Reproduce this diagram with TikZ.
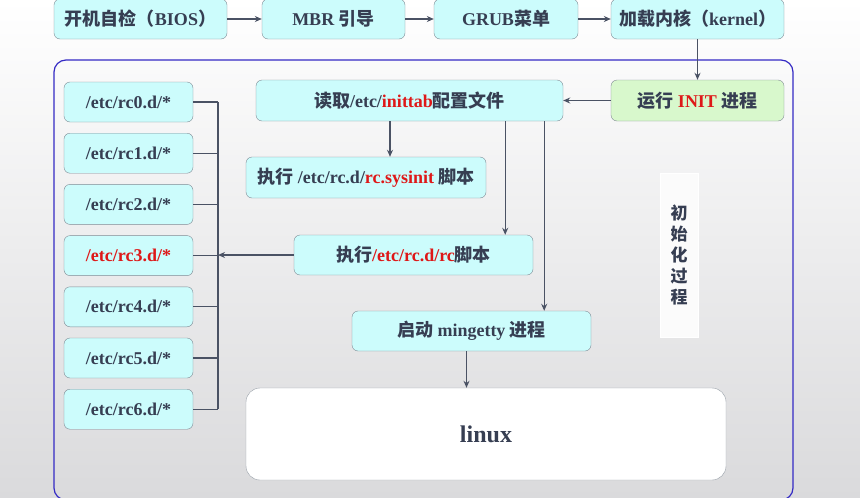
\documentclass[tikz,border=0pt]{standalone}
\usepackage{fontspec}
\setmainfont{Liberation Serif}
\newfontfamily\zh{Noto Sans CJK SC}
\usetikzlibrary{arrows.meta,calc}
\definecolor{ink}{RGB}{54,62,82}
\definecolor{hot}{RGB}{222,24,24}
\definecolor{cyanbox}{RGB}{204,252,252}
\definecolor{greenbox}{RGB}{216,248,204}
\definecolor{edge}{RGB}{128,138,148}
\definecolor{wire}{RGB}{74,82,100}
\definecolor{frameblue}{RGB}{52,42,196}
\tikzset{
  stage/.style={draw=edge, fill=cyanbox, rounded corners=6pt, inner sep=0pt, minimum height=40pt,
    text=ink, font=\fontsize{18}{21}\selectfont\bfseries},
  flow/.style={draw=wire, line width=1.2pt, -{Stealth[length=7pt,width=6pt]}},
  tie/.style={draw=wire, line width=1.2pt}
}
\newcommand{\hl}[1]{\textcolor{hot}{#1}}
\begin{document}
\begin{tikzpicture}[x=1pt,y=-1pt]
    \shade[top color=white, bottom color={rgb,255:red,218;green,218;blue,220}] (0pt,0pt) rectangle (860pt,-498pt);
    \useasboundingbox (0,0) rectangle (860,498);
    \draw[frameblue, line width=1.2pt, rounded corners=12pt] (54,60) rectangle (793,500);

    \node[stage, minimum width=173pt] (bios) at (140.5,19) {{\zh 开机自检（}BIOS{\zh ）}};
    \node[stage, minimum width=143pt] (mbr) at (333.5,19) {MBR {\zh 引导}};
    \node[stage, minimum width=144pt] (grub) at (506,19) {GRUB{\zh 菜单}};
    \node[stage, minimum width=173pt] (kern) at (697.5,19) {{\zh 加载内核（}kernel{\zh ）}};
    \node[stage, fill=greenbox, minimum width=173pt, minimum height=41pt] (init) at (697.5,100.5) {{\zh 运行} \hl{INIT} {\zh 进程}};
    \node[stage, minimum width=307pt, minimum height=41pt] (read) at (409.5,100.5) {{\zh 读取}/etc/\hl{inittab}{\zh 配置文件}};
    \node[stage, minimum width=240pt, minimum height=41pt] (sys) at (366,177.5) {{\zh 执行} /etc/rc.d/\hl{rc.sysinit} {\zh 脚本}};
    \node[stage, minimum width=239pt] (rcs) at (413.5,255) {{\zh 执行}\hl{/etc/rc.d/rc}{\zh 脚本}};
    \node[stage, minimum width=239pt] (ming) at (471.5,331) {{\zh 启动} mingetty {\zh 进程}};
    \node[stage, fill=white, draw=edge!80, rounded corners=14pt, minimum width=480pt, minimum height=92pt,
      font=\fontsize{24}{28}\selectfont\bfseries] (linux) at (486,434) {linux};
    \node[draw=white, fill=white!97!gray, inner sep=0pt, minimum width=38pt, minimum height=164pt, text=ink,
      align=center, font=\zh\fontsize{17}{21}\selectfont\bfseries] (phase) at (679,255) {初\\始\\化\\过\\程};

    \foreach \i/\c in {0/ink,1/ink,2/ink,3/hot,4/ink,5/ink,6/ink}
        \node[stage, minimum width=129pt, text=\c] (rc\i) at (128.5,{102+51.2*\i}) {/etc/rc\i.d/*};

    \coordinate (bus) at (218,0);
    \foreach \i in {0,...,6}
        \draw[tie] (rc\i.east) -- (rc\i.east -| bus);
    \draw[tie] (rc0.east -| bus) -- (rc6.east -| bus);

    \draw[flow] (bios) -- (mbr);
    \draw[flow] (mbr) -- (grub);
    \draw[flow] (grub) -- (kern);
    \draw[flow] (kern) -- (init);
    \draw[flow] (init) -- (read);
    \coordinate (drop1) at ([xshift=24pt]sys.north);
    \draw[flow] (read.south -| drop1) -- (drop1);
    \coordinate (drop2) at ([xshift=-28pt]rcs.north east);
    \draw[flow] (read.south -| drop2) -- (drop2);
    \coordinate (drop3) at ([xshift=-19pt]read.south east);
    \draw[flow] (drop3) -- (drop3 |- ming.north);
    \draw[flow] (rcs) -- (rcs.west -| bus);
    \coordinate (drop4) at ([xshift=-5pt]ming.south);
    \draw[flow] (drop4) -- (drop4 |- linux.north);
\end{tikzpicture}
\end{document}
